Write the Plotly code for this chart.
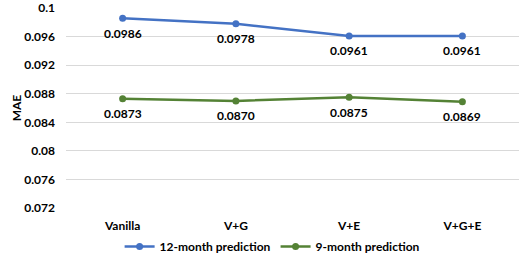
import plotly.graph_objects as go

categories = ["Vanilla", "V+G", "V+E", "V+G+E"]
mae_12 = [0.0986, 0.0978, 0.0961, 0.0961]
mae_9 = [0.0873, 0.0870, 0.0875, 0.0869]
labels_12 = ["0.0986", "0.0978", "0.0961", "0.0961"]
labels_9 = ["0.0873", "0.0870", "0.0875", "0.0869"]
ytick_vals = [0.072, 0.076, 0.08, 0.084, 0.088, 0.092, 0.096, 0.1]
ytick_text = ["0.072", "0.076", "0.08", "0.084", "0.088", "0.092", "0.096", "0.1"]

FONT = "Lato"
blue = "#4472C4"
green = "#548235"
lab_font = dict(family=FONT, size=12, color="#000000", weight="bold")

fig = go.Figure()
fig.add_trace(go.Scatter(
    x=categories, y=mae_12, name="12-month prediction", mode="lines+markers",
    line=dict(color=blue, width=2.5), marker=dict(color=blue, size=7),
))
fig.add_trace(go.Scatter(
    x=categories, y=mae_9, name="9-month prediction", mode="lines+markers",
    line=dict(color=green, width=2.5), marker=dict(color=green, size=7),
))

for series, labels in ((mae_12, labels_12), (mae_9, labels_9)):
    for c, v, t in zip(categories, series, labels):
        fig.add_annotation(x=c, y=v, text=t, showarrow=False, yshift=-15,
                           xanchor="center", yanchor="middle", font=lab_font)

fig.update_layout(
    width=519, height=261,
    margin=dict(l=66, r=0, t=8, b=53, autoexpand=False),
    paper_bgcolor="white", plot_bgcolor="white",
    font=dict(family=FONT, size=12, color="#000000"),
    showlegend=True,
    legend=dict(orientation="h", x=0.455, xanchor="center",
                y=-0.12, yanchor="top", bgcolor="rgba(0,0,0,0)",
                font=lab_font, itemwidth=30, tracegroupgap=0),
    xaxis=dict(type="category", range=[-0.5, 3.5], showgrid=False, zeroline=False,
               showline=False, ticks="", ticklabelstandoff=9, automargin=False,
               tickfont=lab_font),
    yaxis=dict(range=[0.072, 0.10002], tickvals=ytick_vals, ticktext=ytick_text,
               showgrid=True, gridcolor="#D9D9D9", gridwidth=1, zeroline=False,
               showline=False, ticks="", ticklabelstandoff=10, automargin=False,
               tickfont=lab_font,
               title=dict(text="MAE", standoff=0, font=lab_font)),
)

fig.write_html("out.html", config={"displayModeBar": False},
               post_script="document.body.style.margin='0';")
